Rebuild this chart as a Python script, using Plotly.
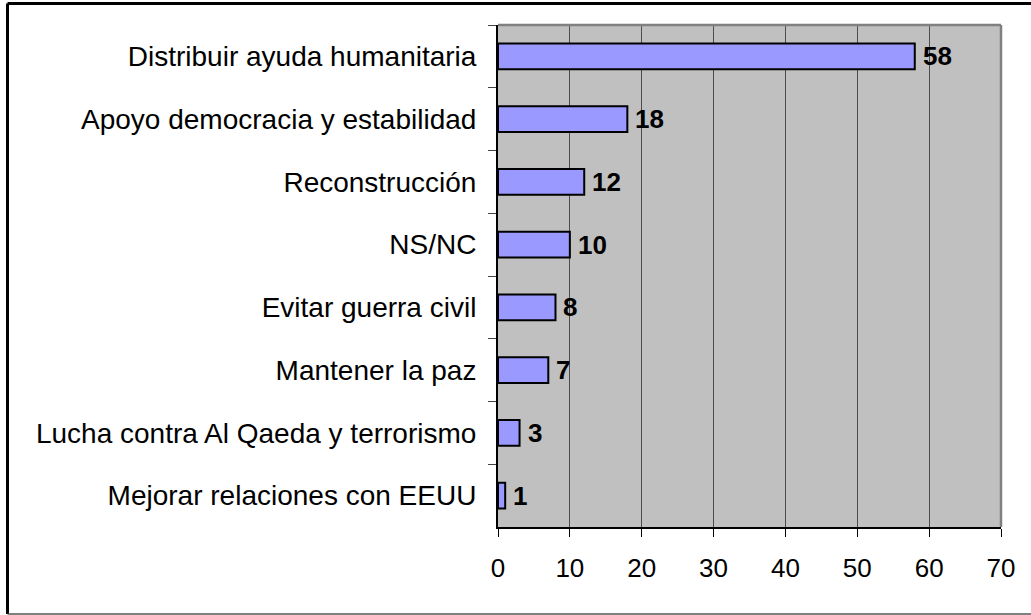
import plotly.graph_objects as go

categories = [
    "Distribuir ayuda humanitaria",
    "Apoyo democracia y estabilidad",
    "Reconstrucción",
    "NS/NC",
    "Evitar guerra civil",
    "Mantener la paz",
    "Lucha contra Al Qaeda y terrorismo",
    "Mejorar relaciones con EEUU",
]
values = [58, 18, 12, 10, 8, 7, 3, 1]
x_ticks = [0, 10, 20, 30, 40, 50, 60, 70]

FONT = "Liberation Sans, Arial, sans-serif"

fig = go.Figure()
fig.add_trace(go.Bar(
    x=values,
    y=categories,
    orientation="h",
    marker=dict(color="#9999FF", line=dict(color="black", width=2)),
    hoverinfo="skip",
))

for v, c in zip(values, categories):
    fig.add_annotation(
        x=v, y=c, text="<b>%d</b>" % v, showarrow=False,
        xanchor="left", yanchor="middle", xshift=6,
        font=dict(family=FONT, size=26, color="black"),
    )

W, H = 1031, 615
L, R, T, B = 498, 30, 25, 88
pw = W - L - R
ph = H - T - B

def px(x):
    return (x - L) / pw

def py(y):
    return (H - B - y) / ph

# plot area top/right border (gray)
fig.add_shape(type="line", xref="paper", yref="paper", x0=0, x1=1, y0=1, y1=1,
              line=dict(color="#808080", width=2.5), layer="above")
fig.add_shape(type="line", xref="paper", yref="paper", x0=1, x1=1, y0=0, y1=1,
              line=dict(color="#808080", width=2.5), layer="above")

# outer chart border
fig.add_shape(type="line", xref="paper", yref="paper", x0=px(7.5), x1=px(1040), y0=py(3.5), y1=py(3.5),
              line=dict(color="black", width=3))
fig.add_shape(type="line", xref="paper", yref="paper", x0=px(7.5), x1=px(7.5), y0=py(3.5), y1=py(614),
              line=dict(color="black", width=3))
fig.add_shape(type="line", xref="paper", yref="paper", x0=px(7.5), x1=px(1040), y0=py(614), y1=py(614),
              line=dict(color="#555555", width=1.5))

fig.update_layout(
    width=W, height=H,
    margin=dict(l=L, r=R, t=T, b=B, pad=0),
    paper_bgcolor="white",
    plot_bgcolor="#C0C0C0",
    bargap=0.59,
    showlegend=False,
    font=dict(family=FONT, size=26, color="black"),
    xaxis=dict(
        range=[0, 70],
        tickvals=x_ticks,
        ticktext=[str(t) for t in x_ticks],
        showgrid=True, gridcolor="#4d4d4d", gridwidth=1,
        zeroline=False,
        showline=True, linecolor="black", linewidth=2,
        ticks="outside", ticklen=8, tickcolor="black", tickwidth=1,
        ticklabelstandoff=9,
        tickfont=dict(family=FONT, size=26, color="black"),
        fixedrange=True,
    ),
    yaxis=dict(
        autorange="reversed",
        showgrid=False, zeroline=False,
        showline=True, linecolor="black", linewidth=2,
        ticks="outside", ticklen=8, tickcolor="#444444", tickwidth=1,
        tickson="boundaries",
        ticklabelstandoff=14,
        tickfont=dict(family=FONT, size=28, color="black"),
        fixedrange=True,
    ),
)

fig.write_html(
    "out.html",
    config={"displayModeBar": False},
    post_script="document.body.style.margin='0';document.body.style.overflow='hidden';",
)
